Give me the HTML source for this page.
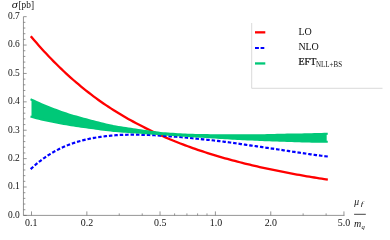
<!DOCTYPE html>
<html><head><meta charset="utf-8">
<style>
html,body{margin:0;padding:0;background:#fff;}
body{width:390px;height:240px;overflow:hidden;font-family:"Liberation Serif",serif;}
svg{display:block;will-change:transform;}
text{font-family:"Liberation Serif",serif;fill:#111;}
</style></head><body>
<svg width="390" height="240" viewBox="0 0 390 240">
<rect width="390" height="240" fill="#fff"/>
<!-- curves -->
<path d="M31.50,37.04 L33.98,39.97 L36.46,42.84 L38.94,45.66 L41.42,48.43 L43.90,51.16 L46.38,53.83 L48.86,56.46 L51.35,59.04 L53.83,61.57 L56.31,64.06 L58.79,66.50 L61.27,68.89 L63.75,71.25 L66.23,73.56 L68.71,75.83 L71.19,78.05 L73.67,80.24 L76.15,82.38 L78.63,84.49 L81.11,86.56 L83.59,88.59 L86.07,90.58 L88.56,92.53 L91.04,94.45 L93.52,96.33 L96.00,98.17 L98.48,99.99 L100.96,101.75 L103.44,103.47 L105.92,105.15 L108.40,106.79 L110.88,108.41 L113.36,110.00 L115.84,111.55 L118.32,113.08 L120.80,114.57 L123.28,116.04 L125.77,117.48 L128.25,118.89 L130.73,120.27 L133.21,121.63 L135.69,122.96 L138.17,124.26 L140.65,125.55 L143.13,126.84 L145.61,128.10 L148.09,129.34 L150.57,130.55 L153.05,131.74 L155.53,132.91 L158.01,134.06 L160.49,135.19 L162.98,136.29 L165.46,137.38 L167.94,138.44 L170.42,139.49 L172.90,140.51 L175.38,141.52 L177.86,142.51 L180.34,143.48 L182.82,144.43 L185.30,145.37 L187.78,146.28 L190.26,147.19 L192.74,148.07 L195.22,148.94 L197.71,149.80 L200.19,150.64 L202.67,151.46 L205.15,152.27 L207.63,153.06 L210.11,153.85 L212.59,154.62 L215.07,155.37 L217.55,156.11 L220.03,156.84 L222.51,157.56 L224.99,158.27 L227.47,158.96 L229.95,159.64 L232.43,160.31 L234.92,160.97 L237.40,161.62 L239.88,162.26 L242.36,162.89 L244.84,163.51 L247.32,164.12 L249.80,164.72 L252.28,165.31 L254.76,165.89 L257.24,166.46 L259.72,167.02 L262.20,167.58 L264.68,168.12 L267.16,168.66 L269.64,169.19 L272.13,169.71 L274.61,170.23 L277.09,170.74 L279.57,171.24 L282.05,171.73 L284.53,172.21 L287.01,172.69 L289.49,173.16 L291.97,173.63 L294.45,174.08 L296.93,174.54 L299.41,174.98 L301.89,175.42 L304.37,175.85 L306.85,176.28 L309.34,176.69 L311.82,177.11 L314.30,177.51 L316.78,177.92 L319.26,178.31 L321.74,178.70 L324.22,179.08 L326.70,179.46" fill="none" stroke="#ff0000" stroke-width="2.3" stroke-linecap="square"/>
<path d="M31.50,168.35 L33.98,166.10 L36.46,163.96 L38.94,161.93 L41.42,160.01 L43.90,158.18 L46.38,156.46 L48.86,154.83 L51.35,153.30 L53.83,151.85 L56.31,150.48 L58.79,149.20 L61.27,147.99 L63.75,146.86 L66.23,145.80 L68.71,144.80 L71.19,143.87 L73.67,143.01 L76.15,142.20 L78.63,141.45 L81.11,140.75 L83.59,140.11 L86.07,139.51 L88.56,138.96 L91.04,138.46 L93.52,138.00 L96.00,137.58 L98.48,137.20 L100.96,136.84 L103.44,136.49 L105.92,136.17 L108.40,135.89 L110.88,135.63 L113.36,135.40 L115.84,135.20 L118.32,135.03 L120.80,134.92 L123.28,134.83 L125.77,134.77 L128.25,134.72 L130.73,134.70 L133.21,134.69 L135.69,134.70 L138.17,134.72 L140.65,134.76 L143.13,134.82 L145.61,134.89 L148.09,134.97 L150.57,135.06 L153.05,135.18 L155.53,135.31 L158.01,135.46 L160.49,135.61 L162.98,135.77 L165.46,135.94 L167.94,136.11 L170.42,136.30 L172.90,136.49 L175.38,136.69 L177.86,136.90 L180.34,137.11 L182.82,137.33 L185.30,137.56 L187.78,137.79 L190.26,138.03 L192.74,138.27 L195.22,138.52 L197.71,138.78 L200.19,139.04 L202.67,139.29 L205.15,139.54 L207.63,139.80 L210.11,140.07 L212.59,140.34 L215.07,140.61 L217.55,140.89 L220.03,141.18 L222.51,141.50 L224.99,141.83 L227.47,142.16 L229.95,142.50 L232.43,142.84 L234.92,143.19 L237.40,143.54 L239.88,143.90 L242.36,144.26 L244.84,144.63 L247.32,144.99 L249.80,145.37 L252.28,145.71 L254.76,146.05 L257.24,146.40 L259.72,146.75 L262.20,147.11 L264.68,147.46 L267.16,147.83 L269.64,148.19 L272.13,148.56 L274.61,148.92 L277.09,149.30 L279.57,149.67 L282.05,150.04 L284.53,150.42 L287.01,150.79 L289.49,151.16 L291.97,151.54 L294.45,151.92 L296.93,152.30 L299.41,152.67 L301.89,153.04 L304.37,153.41 L306.85,153.77 L309.34,154.13 L311.82,154.48 L314.30,154.82 L316.78,155.15 L319.26,155.47 L321.74,155.78 L324.22,156.08 L326.70,156.37" fill="none" stroke="#0000ff" stroke-width="2.2" stroke-dasharray="1.3 4.1199" stroke-linecap="square"/>
<path d="M31.50,99.67 L33.98,100.82 L36.46,101.94 L38.94,103.04 L41.42,104.12 L43.90,105.17 L46.38,106.20 L48.86,107.21 L51.35,108.20 L53.83,109.16 L56.31,110.10 L58.79,111.02 L61.27,111.92 L63.75,112.79 L66.23,113.60 L68.71,114.38 L71.19,115.15 L73.67,115.90 L76.15,116.63 L78.63,117.34 L81.11,118.03 L83.59,118.71 L86.07,119.36 L88.56,120.03 L91.04,120.71 L93.52,121.37 L96.00,122.01 L98.48,122.63 L100.96,123.24 L103.44,123.83 L105.92,124.41 L108.40,124.97 L110.88,125.51 L113.36,126.03 L115.84,126.48 L118.32,126.92 L120.80,127.35 L123.28,127.76 L125.77,128.16 L128.25,128.54 L130.73,128.91 L133.21,129.26 L135.69,129.61 L138.17,129.94 L140.65,130.32 L143.13,130.68 L145.61,131.04 L148.09,131.38 L150.57,131.71 L153.05,132.03 L155.53,132.34 L158.01,132.63 L160.49,132.92 L162.98,133.19 L165.46,133.41 L167.94,133.59 L170.42,133.76 L172.90,133.92 L175.38,134.07 L177.86,134.22 L180.34,134.35 L182.82,134.47 L185.30,134.59 L187.78,134.69 L190.26,134.79 L192.74,134.88 L195.22,134.94 L197.71,135.00 L200.19,135.04 L202.67,135.08 L205.15,135.11 L207.63,135.14 L210.11,135.19 L212.59,135.24 L215.07,135.28 L217.55,135.31 L220.03,135.34 L222.51,135.36 L224.99,135.37 L227.47,135.38 L229.95,135.39 L232.43,135.39 L234.92,135.40 L237.40,135.41 L239.88,135.42 L242.36,135.42 L244.84,135.42 L247.32,135.42 L249.80,135.41 L252.28,135.40 L254.76,135.38 L257.24,135.36 L259.72,135.31 L262.20,135.26 L264.68,135.20 L267.16,135.15 L269.64,135.08 L272.13,135.02 L274.61,134.96 L277.09,134.89 L279.57,134.82 L282.05,134.76 L284.53,134.71 L287.01,134.67 L289.49,134.63 L291.97,134.59 L294.45,134.55 L296.93,134.51 L299.41,134.47 L301.89,134.43 L304.37,134.39 L306.85,134.35 L309.34,134.29 L311.82,134.22 L314.30,134.15 L316.78,134.09 L319.26,134.02 L321.74,133.95 L324.22,133.89 L326.70,133.83 L326.70,141.77 L324.22,141.77 L321.74,141.75 L319.26,141.73 L316.78,141.70 L314.30,141.66 L311.82,141.61 L309.34,141.55 L306.85,141.49 L304.37,141.44 L301.89,141.37 L299.41,141.31 L296.93,141.24 L294.45,141.16 L291.97,141.07 L289.49,140.99 L287.01,140.89 L284.53,140.80 L282.05,140.71 L279.57,140.63 L277.09,140.54 L274.61,140.45 L272.13,140.37 L269.64,140.27 L267.16,140.18 L264.68,140.08 L262.20,139.98 L259.72,139.88 L257.24,139.77 L254.76,139.66 L252.28,139.55 L249.80,139.44 L247.32,139.33 L244.84,139.21 L242.36,139.10 L239.88,138.98 L237.40,138.86 L234.92,138.74 L232.43,138.62 L229.95,138.46 L227.47,138.31 L224.99,138.15 L222.51,138.00 L220.03,137.84 L217.55,137.68 L215.07,137.53 L212.59,137.37 L210.11,137.21 L207.63,137.06 L205.15,136.92 L202.67,136.78 L200.19,136.65 L197.71,136.51 L195.22,136.38 L192.74,136.24 L190.26,136.08 L187.78,135.92 L185.30,135.76 L182.82,135.60 L180.34,135.44 L177.86,135.28 L175.38,135.12 L172.90,134.95 L170.42,134.79 L167.94,134.62 L165.46,134.45 L162.98,134.28 L160.49,134.12 L158.01,133.95 L155.53,133.79 L153.05,133.62 L150.57,133.45 L148.09,133.27 L145.61,133.09 L143.13,132.91 L140.65,132.72 L138.17,132.53 L135.69,132.38 L133.21,132.23 L130.73,132.08 L128.25,131.92 L125.77,131.75 L123.28,131.58 L120.80,131.40 L118.32,131.22 L115.84,131.03 L113.36,130.83 L110.88,130.56 L108.40,130.26 L105.92,129.96 L103.44,129.66 L100.96,129.34 L98.48,129.01 L96.00,128.67 L93.52,128.33 L91.04,127.97 L88.56,127.60 L86.07,127.25 L83.59,126.92 L81.11,126.59 L78.63,126.24 L76.15,125.88 L73.67,125.50 L71.19,125.11 L68.71,124.71 L66.23,124.29 L63.75,123.85 L61.27,123.42 L58.79,122.98 L56.31,122.53 L53.83,122.05 L51.35,121.56 L48.86,121.05 L46.38,120.51 L43.90,119.96 L41.42,119.39 L38.94,118.79 L36.46,118.18 L33.98,117.54 L31.50,116.87 Z" fill="#00c878" stroke="none"/>
<path d="M31.50,99.67 L33.98,100.82 L36.46,101.94 L38.94,103.04 L41.42,104.12 L43.90,105.17 L46.38,106.20 L48.86,107.21 L51.35,108.20 L53.83,109.16 L56.31,110.10 L58.79,111.02 L61.27,111.92 L63.75,112.79 L66.23,113.60 L68.71,114.38 L71.19,115.15 L73.67,115.90 L76.15,116.63 L78.63,117.34 L81.11,118.03 L83.59,118.71 L86.07,119.36 L88.56,120.03 L91.04,120.71 L93.52,121.37 L96.00,122.01 L98.48,122.63 L100.96,123.24 L103.44,123.83 L105.92,124.41 L108.40,124.97 L110.88,125.51 L113.36,126.03 L115.84,126.48 L118.32,126.92 L120.80,127.35 L123.28,127.76 L125.77,128.16 L128.25,128.54 L130.73,128.91 L133.21,129.26 L135.69,129.61 L138.17,129.94 L140.65,130.32 L143.13,130.68 L145.61,131.04 L148.09,131.38 L150.57,131.71 L153.05,132.03 L155.53,132.34 L158.01,132.63 L160.49,132.92 L162.98,133.19 L165.46,133.41 L167.94,133.59 L170.42,133.76 L172.90,133.92 L175.38,134.07 L177.86,134.22 L180.34,134.35 L182.82,134.47 L185.30,134.59 L187.78,134.69 L190.26,134.79 L192.74,134.88 L195.22,134.94 L197.71,135.00 L200.19,135.04 L202.67,135.08 L205.15,135.11 L207.63,135.14 L210.11,135.19 L212.59,135.24 L215.07,135.28 L217.55,135.31 L220.03,135.34 L222.51,135.36 L224.99,135.37 L227.47,135.38 L229.95,135.39 L232.43,135.39 L234.92,135.40 L237.40,135.41 L239.88,135.42 L242.36,135.42 L244.84,135.42 L247.32,135.42 L249.80,135.41 L252.28,135.40 L254.76,135.38 L257.24,135.36 L259.72,135.31 L262.20,135.26 L264.68,135.20 L267.16,135.15 L269.64,135.08 L272.13,135.02 L274.61,134.96 L277.09,134.89 L279.57,134.82 L282.05,134.76 L284.53,134.71 L287.01,134.67 L289.49,134.63 L291.97,134.59 L294.45,134.55 L296.93,134.51 L299.41,134.47 L301.89,134.43 L304.37,134.39 L306.85,134.35 L309.34,134.29 L311.82,134.22 L314.30,134.15 L316.78,134.09 L319.26,134.02 L321.74,133.95 L324.22,133.89 L326.70,133.83" fill="none" stroke="#00c878" stroke-width="2.1" stroke-linecap="square"/>
<path d="M31.50,116.87 L33.98,117.54 L36.46,118.18 L38.94,118.79 L41.42,119.39 L43.90,119.96 L46.38,120.51 L48.86,121.05 L51.35,121.56 L53.83,122.05 L56.31,122.53 L58.79,122.98 L61.27,123.42 L63.75,123.85 L66.23,124.29 L68.71,124.71 L71.19,125.11 L73.67,125.50 L76.15,125.88 L78.63,126.24 L81.11,126.59 L83.59,126.92 L86.07,127.25 L88.56,127.60 L91.04,127.97 L93.52,128.33 L96.00,128.67 L98.48,129.01 L100.96,129.34 L103.44,129.66 L105.92,129.96 L108.40,130.26 L110.88,130.56 L113.36,130.83 L115.84,131.03 L118.32,131.22 L120.80,131.40 L123.28,131.58 L125.77,131.75 L128.25,131.92 L130.73,132.08 L133.21,132.23 L135.69,132.38 L138.17,132.53 L140.65,132.72 L143.13,132.91 L145.61,133.09 L148.09,133.27 L150.57,133.45 L153.05,133.62 L155.53,133.79 L158.01,133.95 L160.49,134.12 L162.98,134.28 L165.46,134.45 L167.94,134.62 L170.42,134.79 L172.90,134.95 L175.38,135.12 L177.86,135.28 L180.34,135.44 L182.82,135.60 L185.30,135.76 L187.78,135.92 L190.26,136.08 L192.74,136.24 L195.22,136.38 L197.71,136.51 L200.19,136.65 L202.67,136.78 L205.15,136.92 L207.63,137.06 L210.11,137.21 L212.59,137.37 L215.07,137.53 L217.55,137.68 L220.03,137.84 L222.51,138.00 L224.99,138.15 L227.47,138.31 L229.95,138.46 L232.43,138.62 L234.92,138.74 L237.40,138.86 L239.88,138.98 L242.36,139.10 L244.84,139.21 L247.32,139.33 L249.80,139.44 L252.28,139.55 L254.76,139.66 L257.24,139.77 L259.72,139.88 L262.20,139.98 L264.68,140.08 L267.16,140.18 L269.64,140.27 L272.13,140.37 L274.61,140.45 L277.09,140.54 L279.57,140.63 L282.05,140.71 L284.53,140.80 L287.01,140.89 L289.49,140.99 L291.97,141.07 L294.45,141.16 L296.93,141.24 L299.41,141.31 L301.89,141.37 L304.37,141.44 L306.85,141.49 L309.34,141.55 L311.82,141.61 L314.30,141.66 L316.78,141.70 L319.26,141.73 L321.74,141.75 L324.22,141.77 L326.70,141.77" fill="none" stroke="#00c878" stroke-width="2.1" stroke-linecap="square"/>
<!-- axes -->
<g stroke="#686868" stroke-width="0.7" fill="none">
<line x1="23.45" y1="16.7" x2="23.45" y2="215.4"/>
<line x1="23.45" y1="215.4" x2="344.5" y2="215.4"/>
<line x1="23.45" y1="215.40" x2="26.65" y2="215.40"/>
<line x1="23.45" y1="209.72" x2="25.35" y2="209.72"/>
<line x1="23.45" y1="204.04" x2="25.35" y2="204.04"/>
<line x1="23.45" y1="198.37" x2="25.35" y2="198.37"/>
<line x1="23.45" y1="192.69" x2="25.35" y2="192.69"/>
<line x1="23.45" y1="187.01" x2="26.65" y2="187.01"/>
<line x1="23.45" y1="181.33" x2="25.35" y2="181.33"/>
<line x1="23.45" y1="175.65" x2="25.35" y2="175.65"/>
<line x1="23.45" y1="169.98" x2="25.35" y2="169.98"/>
<line x1="23.45" y1="164.30" x2="25.35" y2="164.30"/>
<line x1="23.45" y1="158.62" x2="26.65" y2="158.62"/>
<line x1="23.45" y1="152.94" x2="25.35" y2="152.94"/>
<line x1="23.45" y1="147.26" x2="25.35" y2="147.26"/>
<line x1="23.45" y1="141.59" x2="25.35" y2="141.59"/>
<line x1="23.45" y1="135.91" x2="25.35" y2="135.91"/>
<line x1="23.45" y1="130.23" x2="26.65" y2="130.23"/>
<line x1="23.45" y1="124.55" x2="25.35" y2="124.55"/>
<line x1="23.45" y1="118.87" x2="25.35" y2="118.87"/>
<line x1="23.45" y1="113.20" x2="25.35" y2="113.20"/>
<line x1="23.45" y1="107.52" x2="25.35" y2="107.52"/>
<line x1="23.45" y1="101.84" x2="26.65" y2="101.84"/>
<line x1="23.45" y1="96.16" x2="25.35" y2="96.16"/>
<line x1="23.45" y1="90.48" x2="25.35" y2="90.48"/>
<line x1="23.45" y1="84.81" x2="25.35" y2="84.81"/>
<line x1="23.45" y1="79.13" x2="25.35" y2="79.13"/>
<line x1="23.45" y1="73.45" x2="26.65" y2="73.45"/>
<line x1="23.45" y1="67.77" x2="25.35" y2="67.77"/>
<line x1="23.45" y1="62.09" x2="25.35" y2="62.09"/>
<line x1="23.45" y1="56.42" x2="25.35" y2="56.42"/>
<line x1="23.45" y1="50.74" x2="25.35" y2="50.74"/>
<line x1="23.45" y1="45.06" x2="26.65" y2="45.06"/>
<line x1="23.45" y1="39.38" x2="25.35" y2="39.38"/>
<line x1="23.45" y1="33.70" x2="25.35" y2="33.70"/>
<line x1="23.45" y1="28.03" x2="25.35" y2="28.03"/>
<line x1="23.45" y1="22.35" x2="25.35" y2="22.35"/>
<line x1="23.45" y1="16.67" x2="26.65" y2="16.67"/>
<line x1="31.50" y1="215.4" x2="31.50" y2="211.40"/>
<line x1="86.86" y1="215.4" x2="86.86" y2="211.40"/>
<line x1="119.24" y1="215.4" x2="119.24" y2="213.40"/>
<line x1="142.22" y1="215.4" x2="142.22" y2="213.40"/>
<line x1="160.04" y1="215.4" x2="160.04" y2="211.40"/>
<line x1="174.60" y1="215.4" x2="174.60" y2="213.40"/>
<line x1="186.91" y1="215.4" x2="186.91" y2="213.40"/>
<line x1="197.58" y1="215.4" x2="197.58" y2="213.40"/>
<line x1="206.99" y1="215.4" x2="206.99" y2="213.40"/>
<line x1="215.40" y1="215.4" x2="215.40" y2="211.40"/>
<line x1="270.76" y1="215.4" x2="270.76" y2="211.40"/>
<line x1="303.14" y1="215.4" x2="303.14" y2="213.40"/>
<line x1="326.12" y1="215.4" x2="326.12" y2="213.40"/>
<line x1="343.94" y1="215.4" x2="343.94" y2="211.40"/>
</g>
<g font-size="10">
<text x="19.8" y="217.70" text-anchor="end" textLength="11.8" lengthAdjust="spacingAndGlyphs">0.0</text>
<text x="19.8" y="189.31" text-anchor="end" textLength="11.8" lengthAdjust="spacingAndGlyphs">0.1</text>
<text x="19.8" y="160.92" text-anchor="end" textLength="11.8" lengthAdjust="spacingAndGlyphs">0.2</text>
<text x="19.8" y="132.53" text-anchor="end" textLength="11.8" lengthAdjust="spacingAndGlyphs">0.3</text>
<text x="19.8" y="104.14" text-anchor="end" textLength="11.8" lengthAdjust="spacingAndGlyphs">0.4</text>
<text x="19.8" y="75.75" text-anchor="end" textLength="11.8" lengthAdjust="spacingAndGlyphs">0.5</text>
<text x="19.8" y="47.36" text-anchor="end" textLength="11.8" lengthAdjust="spacingAndGlyphs">0.6</text>
<text x="19.8" y="18.97" text-anchor="end" textLength="11.8" lengthAdjust="spacingAndGlyphs">0.7</text>
<text x="31.20" y="225.75" text-anchor="middle" textLength="12.4" lengthAdjust="spacingAndGlyphs">0.1</text>
<text x="86.96" y="225.75" text-anchor="middle" textLength="12.4" lengthAdjust="spacingAndGlyphs">0.2</text>
<text x="160.14" y="225.75" text-anchor="middle" textLength="12.4" lengthAdjust="spacingAndGlyphs">0.5</text>
<text x="216.00" y="225.75" text-anchor="middle" textLength="12.4" lengthAdjust="spacingAndGlyphs">1.0</text>
<text x="270.86" y="225.75" text-anchor="middle" textLength="12.4" lengthAdjust="spacingAndGlyphs">2.0</text>
<text x="344.04" y="225.75" text-anchor="middle" textLength="12.4" lengthAdjust="spacingAndGlyphs">5.0</text>
</g>
<!-- y label -->
<text transform="translate(11.7,8.2) scale(1.22,1)" font-size="10" font-style="italic">σ</text>
<text x="18.5" y="8.2" font-size="10" textLength="15.5" lengthAdjust="spacingAndGlyphs">[pb]</text>
<!-- x label fraction -->
<text x="354.3" y="205.0" font-size="9.6" font-style="italic">μ</text>
<text transform="translate(360.7,206.3) scale(1.4,1)" font-size="6.6" font-style="italic">f</text>
<line x1="354.1" y1="214.3" x2="365.8" y2="214.3" stroke="#3a3a3a" stroke-width="0.95"/>
<text x="354.1" y="226.7" font-size="10" font-style="italic">m</text>
<text x="361.4" y="228.5" font-size="6.6" font-style="italic">q</text>
<!-- legend -->
<path d="M251.7,23 L251.7,88.3 L382.5,88.3" fill="none" stroke="#d0d0d0" stroke-width="0.8"/>
<line x1="255" y1="32.35" x2="265.3" y2="32.35" stroke="#ff0000" stroke-width="2.3"/>
<line x1="255" y1="48" x2="264.3" y2="48" stroke="#0000ff" stroke-width="2.2" stroke-dasharray="3.9 1.7 3.7 10"/>
<line x1="255" y1="63.45" x2="265.3" y2="63.45" stroke="#00c878" stroke-width="2.3"/>
<g font-size="10">
<text x="298.5" y="35">LO</text>
<text x="298.5" y="50.3" letter-spacing="-0.2">NLO</text>
<text x="298.5" y="65" stroke="#111" stroke-width="0.22">EFT</text>
<text x="316.1" y="66.9" font-size="7.5" textLength="25.9" lengthAdjust="spacingAndGlyphs">NLL+BS</text>
</g>
</svg>
</body></html>
